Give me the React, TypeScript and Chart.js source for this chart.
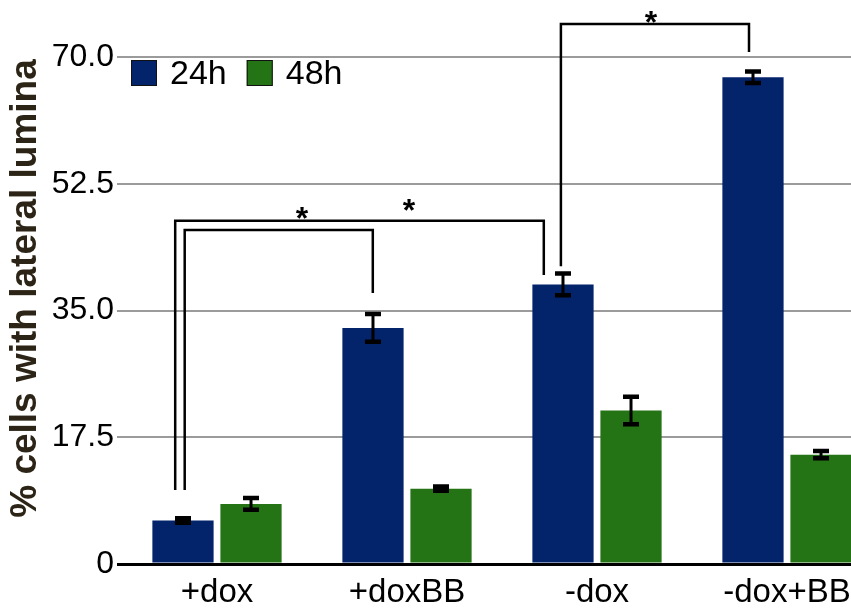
import React, { useEffect, useRef } from "react";
import { Chart, registerables } from "chart.js";

Chart.register(...registerables);

const categories = ["+dox", "+doxBB", "-dox", "-dox+BB"];
const seriesLabels = ["24h", "48h"];
const values24h = [6.0, 32.6, 38.6, 67.2];
const values48h = [8.3, 10.4, 21.2, 15.1];
const errors24h = [0.3, 1.9, 1.5, 0.8];
const errors48h = [0.8, 0.3, 1.9, 0.5];
const yTicks = [0, 17.5, 35, 52.5, 70];

// significance brackets (x in category units, y in data units)
const bracketX1 = [-0.22, -0.17, 1.81];
const bracketX2 = [1.72, 0.82, 2.8];
const bracketTop = [47.4, 46.1, 74.55];
const bracketLeftEnd = [10.2, 10.2, 41.1];
const bracketRightEnd = [39.9, 37.4, 70.7];
const starX = [1.01, 0.447, 2.284];
const starY = [49.6, 48.5, 75.5];
const starText = ["*", "*", "*"];

const BLUE = "#03236a";
const GREEN = "#247314";
const FONT = "'Liberation Sans', Arial, Helvetica, sans-serif";
const axisTitle = "% cells with lateral lumina";

const errorBarPlugin = {
  id: "errorBars",
  afterDatasetsDraw(chart: any) {
    const ctx = chart.ctx;
    const y = chart.scales.y;
    const errs = [errors24h, errors48h];
    ctx.save();
    ctx.strokeStyle = "#000";
    chart.data.datasets.forEach((ds: any, di: number) => {
      const meta = chart.getDatasetMeta(di);
      meta.data.forEach((bar: any, i: number) => {
        const v = ds.data[i];
        const e = errs[di][i];
        const yt = y.getPixelForValue(v + e);
        const yb = y.getPixelForValue(v - e);
        const x = bar.x;
        ctx.lineWidth = 3;
        ctx.beginPath();
        ctx.moveTo(x, yt);
        ctx.lineTo(x, yb);
        ctx.stroke();
        ctx.lineWidth = 4.5;
        ctx.beginPath();
        ctx.moveTo(x - 8, yt);
        ctx.lineTo(x + 8, yt);
        ctx.moveTo(x - 8, yb);
        ctx.lineTo(x + 8, yb);
        ctx.stroke();
      });
    });
    ctx.restore();
  },
};

const bracketPlugin = {
  id: "brackets",
  afterDatasetsDraw(chart: any) {
    const ctx = chart.ctx;
    const xs = chart.scales.x;
    const ys = chart.scales.y;
    ctx.save();
    ctx.strokeStyle = "#000";
    ctx.lineWidth = 2.5;
    for (let i = 0; i < bracketX1.length; i++) {
      const x1 = xs.getPixelForValue(bracketX1[i]);
      const x2 = xs.getPixelForValue(bracketX2[i]);
      const yt = ys.getPixelForValue(bracketTop[i]);
      const yl = ys.getPixelForValue(bracketLeftEnd[i]);
      const yr = ys.getPixelForValue(bracketRightEnd[i]);
      ctx.beginPath();
      ctx.moveTo(x1, yl);
      ctx.lineTo(x1, yt);
      ctx.lineTo(x2, yt);
      ctx.lineTo(x2, yr);
      ctx.stroke();
    }
    ctx.fillStyle = "#000";
    ctx.font = `bold 32px ${FONT}`;
    ctx.textAlign = "center";
    ctx.textBaseline = "middle";
    for (let i = 0; i < starX.length; i++) {
      const sx = xs.getPixelForValue(starX[i]);
      const sy = ys.getPixelForValue(starY[i]);
      ctx.fillText(starText[i], sx, sy + 7);
    }
    ctx.restore();
  },
};

const legendPlugin = {
  id: "customLegend",
  afterDraw(chart: any) {
    const ctx = chart.ctx;
    const area = chart.chartArea;
    ctx.save();
    let x = area.left + 9;
    const top = area.top + 3;
    const box = 26;
    ctx.font = `34px ${FONT}`;
    ctx.textBaseline = "middle";
    ctx.textAlign = "left";
    chart.data.datasets.forEach((ds: any) => {
      ctx.fillStyle = ds.backgroundColor;
      ctx.fillRect(x, top, box, box);
      ctx.strokeStyle = "#111";
      ctx.lineWidth = 1;
      ctx.strokeRect(x + 0.5, top + 0.5, box - 1, box - 1);
      x += box + 13;
      ctx.fillStyle = "#000";
      ctx.fillText(ds.label, x, top + box / 2 + 2);
      x += ctx.measureText(ds.label).width + 20;
    });
    ctx.restore();
  },
};

const titlePlugin = {
  id: "yTitle",
  afterDraw(chart: any) {
    const ctx = chart.ctx;
    const area = chart.chartArea;
    ctx.save();
    ctx.translate(26, (area.top + area.bottom) / 2 - 22);
    ctx.rotate(-Math.PI / 2);
    ctx.font = `bold 37px ${FONT}`;
    ctx.fillStyle = "#2c2416";
    ctx.textAlign = "center";
    ctx.textBaseline = "middle";
    ctx.fillText(axisTitle, 0, 0);
    ctx.restore();
  },
};

export default function App() {
  const ref = useRef<HTMLCanvasElement | null>(null);
  useEffect(() => {
    if (!ref.current) return;
    const chart = new Chart(ref.current, {
      type: "bar",
      data: {
        labels: categories,
        datasets: [
          { label: seriesLabels[0], data: values24h, backgroundColor: BLUE },
          { label: seriesLabels[1], data: values48h, backgroundColor: GREEN },
        ],
      },
      options: {
        animation: false,
        responsive: true,
        maintainAspectRatio: false,
        layout: { padding: { top: 57, right: 8, left: 0, bottom: 0 } },
        datasets: {
          bar: { categoryPercentage: 0.716, barPercentage: 0.9 },
        },
        plugins: {
          legend: { display: false },
          tooltip: { enabled: false },
        },
        scales: {
          x: {
            afterFit(scale: any) {
              scale.height = 49;
            },
            grid: { display: false, drawTicks: false },
            border: { display: true, color: "#000", width: 3 },
            ticks: {
              color: "#000",
              font: { family: FONT, size: 33 },
              padding: 9,
            },
          },
          y: {
            min: 0,
            max: 70,
            afterFit(scale: any) {
              scale.width = 122;
            },
            afterBuildTicks(scale: any) {
              scale.ticks = yTicks.map((v) => ({ value: v }));
            },
            grid: {
              color: (c: any) => (c.tick && c.tick.value === 0 ? "#000" : "#9b9b9b"),
              lineWidth: (c: any) => (c.tick && c.tick.value === 0 ? 3 : 2),
              tickLength: 5,
            },
            border: { display: false },
            ticks: {
              color: "#000",
              font: { family: FONT, size: 32 },
              padding: 3,
              callback: (v: any) => (Number(v) === 0 ? "0" : Number(v).toFixed(1)),
            },
          },
        },
      },
      plugins: [errorBarPlugin, bracketPlugin, legendPlugin, titlePlugin],
    });
    return () => chart.destroy();
  }, []);
  return (
    <div
      style={{
        position: "absolute",
        left: 0,
        top: 0,
        width: 851,
        height: 613,
        overflow: "hidden",
        background: "#fff",
      }}
    >
      <div style={{ position: "relative", width: 890, height: 613 }}>
        <canvas ref={ref} />
      </div>
    </div>
  );
}
